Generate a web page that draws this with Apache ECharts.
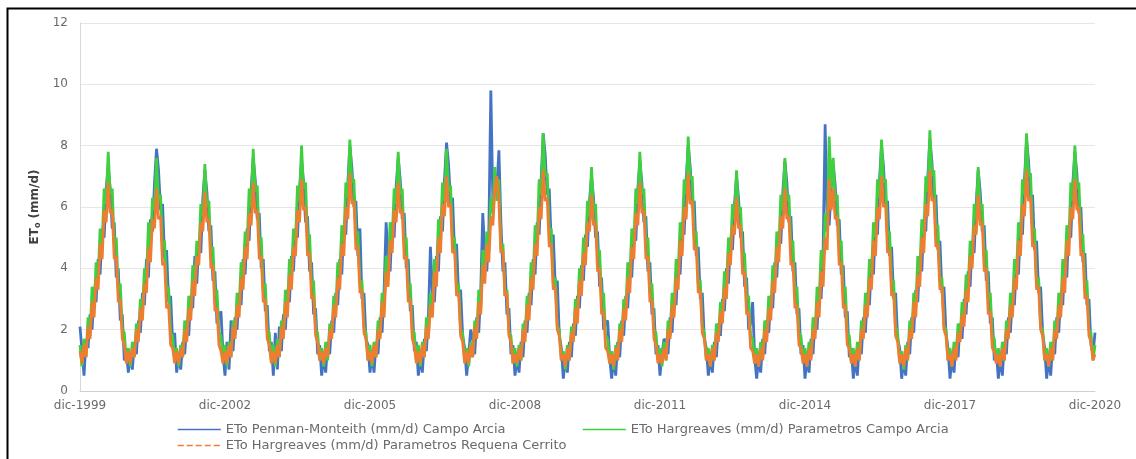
<!DOCTYPE html>
<html>
<head>
<meta charset="utf-8">
<script src="https://cdn.jsdelivr.net/npm/echarts@6/dist/echarts.min.js"></script>
<style>
html,body{margin:0;padding:0;background:#fff;}
#chart{width:1136px;height:459px;}
</style>
</head>
<body>
<div id="chart"></div>
<script>
// Semi-monthly readings (1st and 16th of each month); each row = Dec..Nov of one season (2000..2020)
const monthNames = ['dic','ene','feb','mar','abr','may','jun','jul','ago','sep','oct','nov'];
const seriesNames = [
  'ETo Penman-Monteith (mm/d) Campo Arcia',
  'ETo Hargreaves (mm/d) Parametros Campo Arcia',
  'ETo Hargreaves (mm/d) Parametros Requena Cerrito'
];
const etoPenmanCampoArcia = [
  [2.1,1.3,0.5,1.7,1.4,2.5,2.0,3.3,2.9,4.3,3.8,5.3,5.0,6.6,7.3,6.6,5.3,5.5,3.7,4.0,2.3,2.5,1.0,1.3],
  [0.6,1.2,0.7,1.6,1.2,2.3,1.9,3.2,2.8,4.3,3.7,5.6,5.2,6.8,7.9,7.2,5.9,6.1,4.3,4.6,2.9,3.1,1.6,1.9],
  [0.6,1.2,0.7,1.6,1.2,2.2,1.8,3.1,2.7,4.4,3.5,4.8,4.5,6.3,7.2,6.5,5.2,5.4,3.6,3.9,2.2,2.4,2.6,1.2],
  [0.5,1.6,0.7,2.3,1.3,2.4,2.0,3.2,2.8,4.3,3.8,5.3,4.9,6.6,7.6,6.9,5.6,5.8,4.0,4.3,2.6,2.8,1.3,1.6],
  [0.5,1.9,0.7,2.1,1.3,2.5,2.0,3.3,2.9,4.4,3.9,5.3,5.0,6.6,7.5,6.8,5.5,5.7,3.9,4.2,2.5,2.7,1.2,1.5],
  [0.5,1.1,0.6,1.6,1.2,2.3,1.9,3.2,2.8,4.3,3.8,5.4,5.1,6.8,8.0,7.3,6.0,6.2,4.4,5.3,3.0,3.2,1.7,1.5],
  [0.6,1.2,0.6,1.6,1.2,2.4,1.9,3.3,5.5,4.4,3.9,5.5,5.0,6.7,7.6,6.9,5.6,5.8,4.0,4.3,2.6,2.8,1.3,1.6],
  [0.5,1.1,0.6,1.7,1.3,2.4,4.7,3.2,2.9,4.4,3.9,5.7,5.2,6.9,8.1,7.4,6.1,6.3,4.5,4.8,3.1,3.3,1.8,1.4],
  [0.5,1.2,2.0,1.7,1.2,2.4,1.9,3.3,5.8,4.5,3.9,5.2,9.8,6.2,7.1,6.6,7.85,5.5,3.9,4.2,2.5,2.7,1.2,1.5],
  [0.5,1.1,0.6,1.6,1.1,2.3,1.9,3.2,2.8,4.3,3.8,5.5,5.1,6.9,8.4,7.7,6.4,6.6,4.8,5.1,3.4,3.6,1.8,1.4],
  [0.4,1.1,0.6,1.6,1.1,2.2,1.8,3.1,2.7,4.1,3.6,5.1,4.7,6.2,7.0,6.3,5.0,5.2,3.4,3.7,2.0,2.2,2.3,1.1],
  [0.4,1.1,0.5,1.6,1.1,2.3,1.8,3.1,2.7,4.2,3.7,5.3,4.9,6.6,7.5,6.8,5.5,5.7,3.9,4.2,2.5,2.7,1.2,1.5],
  [0.5,1.2,1.7,1.6,1.2,2.4,1.9,3.2,2.8,4.3,3.8,5.5,5.1,6.9,8.0,7.3,6.0,6.2,4.4,4.7,3.0,3.2,1.7,1.4],
  [0.5,1.1,0.6,1.6,1.1,2.2,1.8,3.0,2.6,4.0,3.5,5.0,4.6,6.1,7.0,6.3,5.0,5.2,3.4,3.7,2.0,2.2,2.9,1.1],
  [0.4,1.1,0.6,1.7,1.2,2.3,1.9,3.1,2.7,4.2,3.7,5.2,4.8,6.5,7.5,6.8,5.5,5.7,3.9,4.2,2.5,2.7,1.2,1.5],
  [0.4,1.1,0.6,1.7,1.2,2.4,2.0,3.4,3.0,4.6,8.7,5.6,5.4,6.6,7.4,6.7,5.4,5.6,3.8,4.1,2.4,2.6,1.1,1.4],
  [0.4,1.1,0.5,1.6,1.2,2.4,1.9,3.2,2.8,4.3,3.8,5.5,5.1,6.9,8.0,7.3,6.0,6.2,4.4,4.7,3.0,3.2,1.7,1.4],
  [0.4,1.0,0.5,1.6,1.2,2.4,1.9,3.3,2.9,4.4,3.9,5.6,5.2,7.0,8.2,7.5,6.2,6.4,4.6,4.9,3.2,3.4,1.9,1.4],
  [0.4,1.1,0.6,1.6,1.1,2.2,1.7,3.0,2.5,3.9,3.4,4.9,4.5,6.1,7.2,6.5,5.2,5.4,3.6,3.9,2.2,2.4,1.0,1.3],
  [0.4,1.1,0.5,1.6,1.2,2.4,1.9,3.2,2.8,4.3,3.8,5.5,5.1,6.9,8.2,7.5,6.2,6.4,4.6,4.9,3.2,3.4,1.9,1.4],
  [0.4,1.1,0.5,1.6,1.2,2.4,1.9,3.2,2.8,4.3,3.7,5.4,5.0,6.8,7.8,7.1,5.8,6.0,4.2,4.5,2.8,3.0,1.5,1.2],
  [1.9]
];
const etoHargreavesCampoArcia = [
  [1.5,0.8,1.7,1.1,2.4,1.8,3.4,2.7,4.2,3.7,5.3,4.8,6.6,6.1,7.8,6.4,6.6,4.8,5.0,3.3,3.5,2.0,1.9,1.0],
  [1.4,0.8,1.6,1.1,2.2,1.8,3.0,2.6,4.0,3.6,5.5,4.7,6.3,5.9,7.6,6.2,6.4,4.7,4.9,3.2,3.4,1.9,1.8,1.0],
  [1.4,0.8,1.5,1.1,2.3,1.7,3.1,2.6,4.1,3.5,4.9,4.5,6.1,5.7,7.4,6.0,6.2,4.5,4.7,3.1,3.3,1.9,1.8,1.0],
  [1.5,0.8,1.6,1.1,2.3,1.8,3.2,2.7,4.2,3.7,5.2,4.8,6.6,6.0,7.9,6.5,6.7,4.9,5.0,3.3,3.5,2.0,1.9,1.0],
  [1.5,0.8,1.7,1.1,2.3,1.8,3.3,2.7,4.3,3.8,5.3,4.9,6.7,6.2,8.0,6.6,6.8,5.0,5.1,3.4,3.6,2.0,1.9,1.0],
  [1.4,0.8,1.6,1.0,2.2,1.8,3.1,2.6,4.2,3.8,5.4,4.9,6.8,6.3,8.2,6.8,6.9,5.1,5.2,3.5,3.6,2.1,1.9,1.0],
  [1.5,0.8,1.6,1.1,2.3,1.8,3.2,2.7,4.4,3.8,5.5,4.9,6.6,6.1,7.8,6.4,6.6,4.8,5.0,3.3,3.5,2.0,1.9,1.0],
  [1.5,0.8,1.6,1.1,2.4,1.8,3.2,2.7,4.3,3.8,5.6,5.0,6.8,6.2,7.9,6.5,6.7,4.9,5.0,3.3,3.5,2.0,1.9,1.0],
  [1.4,0.8,1.6,1.1,2.3,1.8,3.3,2.7,4.6,3.9,5.2,4.6,6.3,5.8,7.3,6.2,6.9,4.6,4.8,3.1,3.3,1.9,1.8,0.9],
  [1.4,0.8,1.5,1.0,2.2,1.8,3.1,2.6,4.2,3.7,5.4,4.9,6.9,6.4,8.4,7.0,7.1,5.2,5.3,3.5,3.7,2.1,2.0,1.0],
  [1.3,0.7,1.5,1.0,2.1,1.7,3.0,2.5,4.0,3.5,5.0,4.5,6.2,5.7,7.3,5.9,6.1,4.4,4.6,3.0,3.2,1.8,1.7,0.9],
  [1.3,0.7,1.5,1.0,2.2,1.7,3.0,2.6,4.2,3.7,5.3,4.8,6.6,6.1,7.8,6.4,6.6,4.8,5.0,3.3,3.5,2.0,1.9,1.0],
  [1.4,0.8,1.6,1.0,2.3,1.8,3.2,2.7,4.3,3.8,5.5,5.0,6.9,6.4,8.3,6.9,7.0,5.1,5.2,3.5,3.6,2.1,1.9,1.0],
  [1.4,0.8,1.5,1.0,2.2,1.7,2.9,2.5,3.9,3.4,5.0,4.5,6.1,5.6,7.2,5.8,6.0,4.4,4.5,3.0,3.1,1.8,1.7,0.9],
  [1.4,0.8,1.6,1.1,2.3,1.8,3.1,2.6,4.1,3.6,5.2,4.7,6.4,5.9,7.6,6.2,6.4,4.7,4.9,3.2,3.4,1.9,1.8,1.0],
  [1.4,0.8,1.6,1.1,2.4,1.9,3.4,2.9,4.6,4.0,5.8,5.2,8.3,6.6,7.6,6.2,6.4,4.7,4.9,3.2,3.4,1.9,1.8,1.0],
  [1.4,0.8,1.6,1.0,2.3,1.8,3.2,2.7,4.3,3.8,5.5,5.0,6.9,6.3,8.2,6.8,6.9,5.1,5.2,3.5,3.6,2.1,1.9,1.0],
  [1.3,0.7,1.5,1.0,2.3,1.8,3.2,2.7,4.4,3.9,5.6,5.1,7.0,6.5,8.5,7.0,7.2,5.3,5.4,3.6,3.7,2.1,2.0,1.0],
  [1.4,0.8,1.6,1.1,2.2,1.7,2.9,2.4,3.8,3.3,4.9,4.4,6.1,5.6,7.3,5.9,6.1,4.4,4.6,3.0,3.2,1.8,1.7,0.9],
  [1.4,0.8,1.6,1.0,2.3,1.8,3.2,2.7,4.3,3.8,5.5,5.0,6.9,6.4,8.4,7.0,7.1,5.2,5.3,3.5,3.7,2.1,2.0,1.0],
  [1.4,0.8,1.6,1.0,2.3,1.8,3.2,2.7,4.3,3.7,5.4,4.9,6.8,6.2,8.0,6.6,6.8,5.0,5.1,3.4,3.6,2.0,1.9,1.0],
  [1.5]
];
const etoHargreavesRequenaCerrito = [
  [1.3,0.9,1.5,1.1,2.1,1.7,2.9,2.4,3.7,3.3,4.8,4.3,5.9,5.5,6.8,5.8,5.9,4.3,4.4,2.9,3.0,1.7,1.5,0.9],
  [1.3,0.9,1.4,1.1,2.0,1.6,2.7,2.3,3.5,3.2,4.7,4.2,5.6,5.3,6.6,5.6,5.7,4.1,4.2,2.7,2.8,1.5,1.4,0.9],
  [1.3,0.9,1.4,1.1,2.0,1.6,2.7,2.3,3.6,3.1,4.4,4.1,5.5,5.2,6.5,5.5,5.6,4.0,4.1,2.6,2.7,1.5,1.3,0.9],
  [1.3,0.9,1.5,1.1,2.1,1.7,2.8,2.4,3.7,3.3,4.7,4.3,5.8,5.4,6.8,5.8,5.9,4.3,4.4,2.9,3.0,1.7,1.5,0.9],
  [1.3,0.9,1.5,1.1,2.1,1.7,2.9,2.4,3.8,3.3,4.7,4.4,5.9,5.5,6.9,5.9,6.0,4.4,4.5,3.0,3.1,1.8,1.6,1.0],
  [1.3,0.9,1.4,1.1,2.0,1.7,2.8,2.4,3.7,3.3,4.8,4.4,6.0,5.6,7.1,6.1,6.2,4.6,4.7,3.2,3.3,1.9,1.7,1.0],
  [1.3,0.9,1.5,1.1,2.0,1.7,2.9,2.4,3.9,3.4,4.9,4.5,5.9,5.5,6.8,5.8,5.9,4.3,4.4,2.9,3.0,1.7,1.5,0.9],
  [1.3,0.9,1.5,1.1,2.1,1.7,2.8,2.4,3.9,3.4,5.0,4.5,6.1,5.7,7.0,6.0,6.1,4.5,4.6,3.1,3.2,1.8,1.6,0.9],
  [1.3,0.9,1.5,1.1,2.1,1.7,2.9,2.5,4.1,3.5,4.8,4.2,5.7,5.4,6.6,7.0,6.2,4.5,4.6,3.1,3.2,1.8,1.6,0.9],
  [1.2,0.9,1.4,1.0,2.0,1.6,2.8,2.3,3.7,3.3,4.8,4.4,6.0,5.6,7.2,6.2,6.3,4.7,4.8,3.3,3.4,2.0,1.8,1.0],
  [1.2,0.8,1.4,1.0,1.9,1.6,2.7,2.2,3.6,3.1,4.5,4.1,5.5,5.2,6.4,5.4,5.5,3.9,4.0,2.5,2.6,1.4,1.3,0.9],
  [1.2,0.8,1.4,1.0,2.0,1.6,2.7,2.3,3.7,3.2,4.7,4.3,5.8,5.4,6.8,5.8,5.9,4.3,4.4,2.9,3.0,1.7,1.5,0.9],
  [1.2,0.9,1.4,1.0,2.0,1.7,2.8,2.4,3.7,3.3,4.9,4.4,6.0,5.6,7.1,6.1,6.2,4.6,4.7,3.2,3.3,1.9,1.7,1.0],
  [1.2,0.8,1.4,1.0,1.9,1.6,2.6,2.2,3.4,3.0,4.5,4.1,5.4,5.1,6.3,5.3,5.4,3.8,3.9,2.5,2.6,1.4,1.3,0.9],
  [1.2,0.8,1.4,1.0,2.0,1.6,2.7,2.3,3.6,3.2,4.7,4.2,5.7,5.3,6.6,5.6,5.7,4.1,4.2,2.7,2.8,1.5,1.4,0.9],
  [1.2,0.8,1.4,1.0,2.0,1.7,2.9,2.4,3.9,3.4,5.0,4.6,6.9,5.9,6.6,5.6,5.7,4.1,4.2,2.7,2.8,1.5,1.4,0.9],
  [1.2,0.8,1.4,1.0,2.0,1.7,2.8,2.4,3.7,3.3,4.9,4.4,6.0,5.6,7.0,6.0,6.1,4.5,4.6,3.1,3.2,1.8,1.6,0.9],
  [1.2,0.8,1.4,1.0,2.0,1.7,2.9,2.4,3.8,3.4,5.0,4.5,6.1,5.7,7.2,6.2,6.3,4.7,4.8,3.3,3.4,2.0,1.8,1.0],
  [1.2,0.8,1.4,1.0,1.9,1.6,2.5,2.1,3.3,2.9,4.4,4.0,5.4,5.1,6.4,5.4,5.5,3.9,4.0,2.5,2.6,1.4,1.3,0.9],
  [1.2,0.8,1.4,1.0,2.0,1.7,2.8,2.4,3.7,3.3,4.9,4.4,6.1,5.7,7.2,6.2,6.3,4.7,4.8,3.3,3.4,2.0,1.8,1.0],
  [1.2,0.8,1.4,1.0,2.0,1.7,2.8,2.4,3.7,3.2,4.9,4.4,6.0,5.6,6.9,5.9,6.0,4.4,4.5,3.0,3.1,1.8,1.6,1.0],
  [1.2]
];
const yTicks = {min: 0, max: 12, interval: 2};

// categories: 1st and 16th of each month from dic-1999 to dic-2020
const categories = [];
const nPts = etoPenmanCampoArcia.flat().length;
for (let i = 0; i < nPts; i++) {
  const m = Math.floor(i / 2);
  const mi = m % 12;
  const year = mi === 0 ? 1999 + m / 12 : 2000 + Math.floor(m / 12);
  categories.push(monthNames[mi] + '-' + year + (i % 2 ? ' (16)' : ''));
}

const chart = echarts.init(document.getElementById('chart'), null, {renderer: 'canvas'});
const txt = {color: '#6a6a6a', fontSize: 12, fontFamily: 'DejaVu Sans'};
const colors = ['#4472C4', '#3FCF3F', '#ED7D31'];
const legendBase = {
  selectedMode: false, itemWidth: 43, itemHeight: 12, itemGap: 4, padding: 0,
  itemStyle: {opacity: 0},
  textStyle: Object.assign({}, txt, {fontSize: 13})
};
chart.setOption({
  animation: false,
  backgroundColor: '#ffffff',
  color: colors,
  graphic: [{
    type: 'rect', left: 5, top: 6, silent: true,
    shape: {width: 1140, height: 460},
    style: {fill: 'none', stroke: '#000', lineWidth: 2}
  }],
  grid: {left: 80, right: 41, top: 23, bottom: 68},
  xAxis: {
    type: 'category', data: categories, boundaryGap: false,
    axisLine: {lineStyle: {color: '#d0d0d0', width: 1}},
    axisTick: {show: false},
    axisLabel: Object.assign({}, txt, {
      interval: (idx) => idx % 72 === 0, margin: 9, showMaxLabel: true
    }),
    splitLine: {show: false}
  },
  yAxis: {
    type: 'value', min: yTicks.min, max: yTicks.max, interval: yTicks.interval,
    axisLine: {show: true, lineStyle: {color: '#d9d9d9'}},
    axisTick: {show: false},
    axisLabel: Object.assign({}, txt, {margin: 12}),
    splitLine: {lineStyle: {color: '#e6e6e6'}},
    name: '{a|ET}{b|o}{a| (mm/d)}',
    nameLocation: 'middle', nameGap: 35, nameRotate: 90,
    nameTextStyle: {
      rich: {
        a: {fontSize: 12, fontWeight: 'bold', color: '#404040', fontFamily: 'DejaVu Sans'},
        b: {fontSize: 8, fontWeight: 'bold', color: '#404040', fontFamily: 'DejaVu Sans', padding: [6, 0, 0, 0]}
      }
    }
  },
  legend: [
    Object.assign({}, legendBase, {left: 177, top: 423, data: [{name: seriesNames[0], lineStyle: {width: 1.5}}]}),
    Object.assign({}, legendBase, {left: 582, top: 423, data: [{name: seriesNames[1], lineStyle: {width: 1.5}}]}),
    Object.assign({}, legendBase, {left: 177, top: 439, data: [{name: seriesNames[2], lineStyle: {type: 'dashed', width: 1.5}}]})
  ],
  series: [
    {name: seriesNames[0], type: 'line', data: etoPenmanCampoArcia.flat(), symbol: 'none', lineStyle: {width: 2.8, color: colors[0]}, z: 1},
    {name: seriesNames[1], type: 'line', data: etoHargreavesCampoArcia.flat(), symbol: 'none', lineStyle: {width: 2.8, color: colors[1]}, z: 2},
    {name: seriesNames[2], type: 'line', data: etoHargreavesRequenaCerrito.flat(), symbol: 'none', lineStyle: {width: 2.8, color: colors[2]}, z: 3}
  ]
});
</script>
</body>
</html>
